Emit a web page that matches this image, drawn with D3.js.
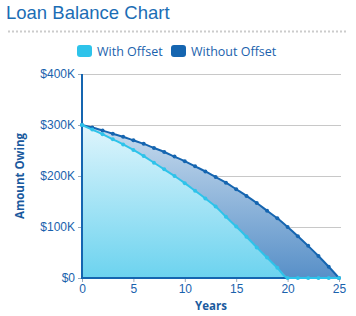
<!DOCTYPE html>
<html>
<head>
<meta charset="utf-8">
<script src="https://cdn.jsdelivr.net/npm/d3@7"></script>
<style>
  body { margin: 0; background: #fff; }
  svg { display: block; font-family: "Open Sans", "DejaVu Sans", sans-serif; }
</style>
</head>
<body>
<svg id="chart" width="356" height="316"></svg>
<script>
var years = [0, 1, 2, 3, 4, 5, 6, 7, 8, 9, 10, 11, 12, 13, 14, 15, 16, 17, 18, 19, 20, 21, 22, 23, 24, 25];
// balance in $K
var withOffset = [300, 291, 282, 272, 262, 251, 239, 226, 213, 200, 186, 171, 156, 140, 120, 101, 81, 60, 40, 20, 0, 0, 0, 0, 0, 0];
var withoutOffset = [300, 295, 289, 283, 277, 270, 263, 255, 247, 238, 229, 219, 209, 198, 187, 174, 161, 147, 132, 117, 100, 82, 63, 43, 22, 0];
var yTicks = [0, 100, 200, 300, 400];
var xTicks = [0, 5, 10, 15, 20, 25];
var seriesNames = ["With Offset", "Without Offset"];

var svg = d3.select("#chart");
var lightCol = "#2ec3ea", darkCol = "#1565b0", textCol = "#1a62ad";

var x = d3.scaleLinear().domain([0, 25]).range([82, 339]);
var y = d3.scaleLinear().domain([0, 400]).range([278, 74]);

var defs = svg.append("defs");
var g1 = defs.append("linearGradient").attr("id", "gLight").attr("x1", 0).attr("y1", 0).attr("x2", 0).attr("y2", 1);
g1.append("stop").attr("offset", "0%").attr("stop-color", "#dff5fc");
g1.append("stop").attr("offset", "100%").attr("stop-color", "#6cd3ef");
var g2 = defs.append("linearGradient").attr("id", "gDark").attr("x1", 0).attr("y1", 0).attr("x2", 0).attr("y2", 1);
g2.append("stop").attr("offset", "0%").attr("stop-color", "#c9dcee");
g2.append("stop").attr("offset", "100%").attr("stop-color", "#5890c8");

// title
svg.append("text").attr("x", 6).attr("y", 19)
  .attr("font-family", "Liberation Sans, Arial, sans-serif")
  .attr("font-size", 18.5).attr("fill", "#1b6db5")
  .text("Loan Balance Chart");

// dotted separator
svg.append("line").attr("x1", 8).attr("x2", 346).attr("y1", 31.5).attr("y2", 31.5)
  .attr("stroke", "#cccccc").attr("stroke-width", 2).attr("stroke-dasharray", "2,2");

// legend
var legend = svg.append("g");
var legX = [77, 171];
[lightCol, darkCol].forEach(function(c, i) {
  legend.append("rect").attr("x", legX[i]).attr("y", 45).attr("width", 15).attr("height", 12)
    .attr("rx", 3).attr("fill", c);
  legend.append("text").attr("x", legX[i] + 20).attr("y", 56)
    .attr("font-size", 12.5).attr("fill", textCol)
    .text(seriesNames[i]);
});

// gridlines
svg.append("g").selectAll("line").data(yTicks.slice(1)).enter().append("line")
  .attr("x1", 82).attr("x2", 341)
  .attr("y1", function(d) { return y(d) + 0.5; }).attr("y2", function(d) { return y(d) + 0.5; })
  .attr("stroke", "#c8c8c8").attr("stroke-width", 1);

// areas
var area = function(vals) {
  return d3.area().x(function(d, i) { return x(years[i]); })
    .y0(y(0)).y1(function(d) { return y(d); })
    .curve(d3.curveMonotoneX)(vals);
};
var line = function(vals) {
  return d3.line().x(function(d, i) { return x(years[i]); })
    .y(function(d) { return y(d); })
    .curve(d3.curveMonotoneX)(vals);
};

svg.append("path").attr("d", area(withoutOffset)).attr("fill", "url(#gDark)");
svg.append("path").attr("d", area(withOffset.slice(0, 21))).attr("fill", "url(#gLight)");

// axes
var yAxis = svg.append("g").attr("transform", "translate(82,0)")
  .call(d3.axisLeft(y).tickValues(yTicks).tickSize(4).tickFormat(function(d) { return "$" + d + (d ? "K" : ""); }));
yAxis.select(".domain").remove();
yAxis.selectAll(".tick line").attr("stroke", "#9ab");
yAxis.selectAll("text").attr("fill", textCol).attr("font-size", 12).attr("x", -7);

var xAxis = svg.append("g").attr("transform", "translate(0,278)")
  .call(d3.axisBottom(x).tickValues(xTicks).tickSize(4));
xAxis.select(".domain").remove();
xAxis.selectAll(".tick line").attr("stroke", "#9ab");
xAxis.selectAll("text").attr("fill", textCol).attr("font-size", 12).attr("y", 6);

svg.append("line").attr("x1", 82).attr("x2", 82).attr("y1", 74).attr("y2", 279)
  .attr("stroke", darkCol).attr("stroke-width", 2);
svg.append("line").attr("x1", 81).attr("x2", 340).attr("y1", 278).attr("y2", 278)
  .attr("stroke", darkCol).attr("stroke-width", 2);

// lines and markers
svg.append("path").attr("d", line(withoutOffset)).attr("fill", "none")
  .attr("stroke", darkCol).attr("stroke-width", 2);
svg.append("g").selectAll("circle").data(withoutOffset).enter().append("circle")
  .attr("cx", function(d, i) { return x(years[i]); }).attr("cy", function(d) { return y(d); })
  .attr("r", 2).attr("fill", darkCol);

svg.append("path").attr("d", line(withOffset)).attr("fill", "none")
  .attr("stroke", lightCol).attr("stroke-width", 2);
svg.append("g").selectAll("circle").data(withOffset).enter().append("circle")
  .attr("cx", function(d, i) { return x(years[i]); }).attr("cy", function(d) { return y(d); })
  .attr("r", 2).attr("fill", lightCol);

// axis titles
svg.append("text").attr("transform", "translate(24,176) rotate(-90)")
  .attr("text-anchor", "middle").attr("font-size", 11.5).attr("font-weight", "bold")
  .attr("fill", "#1a5a9e").text("Amount Owing");
svg.append("text").attr("x", 211).attr("y", 310)
  .attr("text-anchor", "middle").attr("font-size", 11.5).attr("font-weight", "bold")
  .attr("fill", "#1a5a9e").text("Years");
</script>
</body>
</html>
